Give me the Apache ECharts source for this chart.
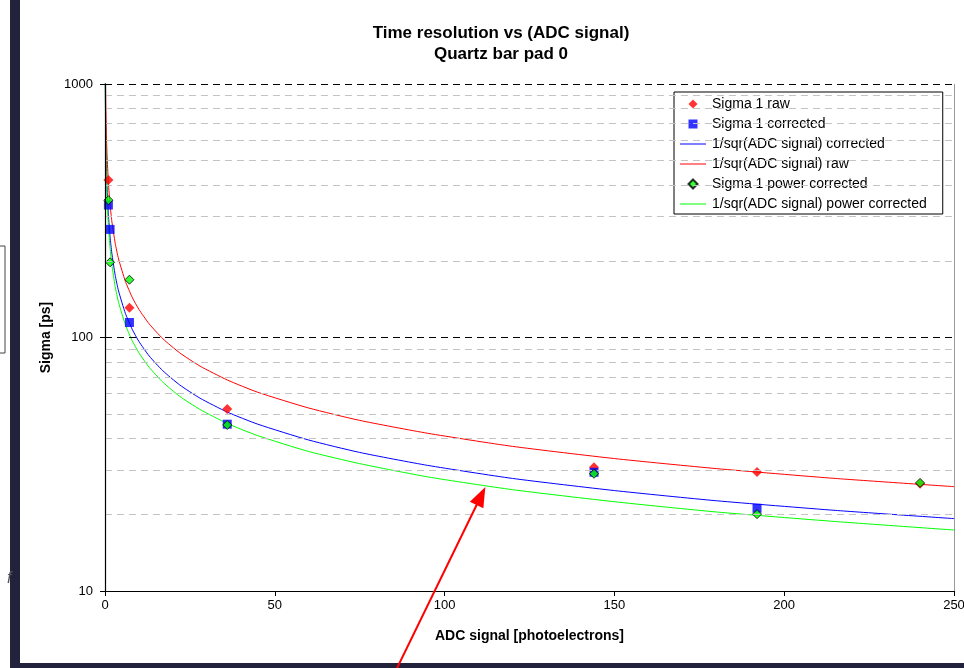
<!DOCTYPE html>
<html>
<head>
<meta charset="utf-8">
<title>Time resolution vs (ADC signal)</title>
<script src="https://cdn.jsdelivr.net/npm/echarts@6/dist/echarts.min.js"></script>
<style>
  html, body { margin: 0; padding: 0; background: #ffffff; overflow: hidden; }
  #chart { width: 964px; height: 668px; }
</style>
</head>
<body>
<div id="chart"></div>
<script>
// Measured points: [ADC signal (photoelectrons), sigma (ps)]
const sigmaRaw = [[1, 418], [7.2, 131], [36, 52.2], [144, 30.8], [192, 29.5], [240, 26.5]];
const sigmaCorrected = [[1, 333], [1.5, 267], [7.2, 114.6], [36, 45.5], [144, 29.4], [192, 21.2]];
const sigmaPowerCorrected = [[1, 348], [1.5, 198], [7.2, 169], [36, 45.2], [144, 29.0], [192, 20.1], [240, 26.7]];

// 1/sqrt(ADC) fit curves, sampled along the ADC axis
const fitX = [0.07, 0.08, 0.1, 0.17, 0.25, 0.4, 0.6, 1, 1.5, 2, 3, 4, 6, 8, 10, 13, 17, 22, 28, 36, 45, 60, 75, 95, 120, 150, 180, 215, 250];
const fitRaw = [1542, 1442.5, 1290.2, 989.5, 816, 645.1, 526.7, 408, 333.1, 288.5, 235.6, 204, 166.6, 144.2, 129.0, 113.2, 99.0, 87.0, 77.1, 68.0, 60.8, 52.7, 47.1, 41.9, 37.2, 33.3, 30.4, 27.8, 25.8];
const fitCorrected = [1152.8, 1078.4, 964.5, 739.7, 610, 482.2, 393.8, 305, 249.0, 215.7, 176.1, 152.5, 124.5, 107.8, 96.4, 84.6, 74.0, 65.0, 57.6, 50.8, 45.5, 39.4, 35.2, 31.3, 27.8, 24.9, 22.7, 20.8, 19.3];
const fitPower = [1039.4, 972.3, 869.6, 667.0, 550, 434.8, 355.0, 275, 224.5, 194.5, 158.8, 137.5, 112.3, 97.2, 87.0, 76.3, 66.7, 58.6, 52.0, 45.8, 41.0, 35.5, 31.8, 28.2, 25.1, 22.5, 20.5, 18.8, 17.4];

// Axis ticks
const xTicks = { min: 0, max: 250, interval: 50 };
const yMajor = [10, 100, 1000];
const yMinor = [20, 30, 40, 50, 60, 70, 80, 90, 200, 300, 400, 500, 600, 700, 800, 900];

// Annotation arrow, in data coordinates (tail lies below the axis)
const arrowTail = [85.3, 4.75];
const arrowTip = [112.0, 25.7];

const FONT = '"Liberation Sans", Arial, sans-serif';

// Legend glyphs
const ICON_DIAMOND = 'path://M5,0 L10,5 L5,10 L0,5 Z';
const ICON_SQUARE = 'path://M0,0 L10,0 L10,10 L0,10 Z';
const ICON_LINE = 'path://M0,0 L26,0 L26,1 L0,1 Z';

function pairs(xs, ys) { return xs.map((x, i) => [x, ys[i]]); }

const chart = echarts.init(document.getElementById('chart'), null, { renderer: 'canvas', width: 964, height: 668 });

const option = {
  backgroundColor: '#ffffff',
  animation: false,
  title: {
    text: 'Time resolution vs (ADC signal)\nQuartz bar pad 0',
    left: 496,
    top: 18,
    textAlign: 'center',
    textStyle: { fontFamily: FONT, fontSize: 17, fontWeight: 'bold', color: '#000', lineHeight: 21 }
  },
  legend: {
    orient: 'vertical',
    left: 674,
    top: 92,
    padding: [5, 16, 3, 6],
    backgroundColor: '#ffffff',
    borderColor: '#000000',
    borderWidth: 1,
    itemWidth: 26,
    itemHeight: 9,
    itemGap: 6,
    textStyle: { fontFamily: FONT, fontSize: 14, color: '#000', lineHeight: 14, padding: [0, 0, 0, 1] },
    data: [
      { name: 'Sigma 1 raw', icon: ICON_DIAMOND },
      { name: 'Sigma 1 corrected', icon: ICON_SQUARE },
      { name: '1/sqr(ADC signal) corrected', icon: ICON_LINE },
      { name: '1/sqr(ADC signal) raw', icon: ICON_LINE },
      { name: 'Sigma 1 power corrected', icon: ICON_DIAMOND },
      { name: '1/sqr(ADC signal) power corrected', icon: ICON_LINE }
    ]
  },
  grid: { left: 105, width: 849, top: 84, height: 507, containLabel: false, outerBoundsMode: 'none' },
  xAxis: {
    type: 'value',
    min: xTicks.min,
    max: xTicks.max,
    interval: xTicks.interval,
    name: 'ADC signal [photoelectrons]',
    nameLocation: 'middle',
    nameGap: 38,
    nameTextStyle: { fontFamily: FONT, fontSize: 14, fontWeight: 'bold', color: '#000' },
    axisLine: { lineStyle: { color: '#000', width: 1 } },
    axisTick: { show: true, length: 5, lineStyle: { color: '#000' } },
    axisLabel: { fontFamily: FONT, fontSize: 13, color: '#000', margin: 8 },
    splitLine: { show: false }
  },
  yAxis: [{
    type: 'log',
    logBase: 10,
    min: yMajor[0],
    max: yMajor[yMajor.length - 1],
    name: 'Sigma [ps]',
    nameLocation: 'middle',
    nameRotate: 90,
    nameGap: 47,
    nameTextStyle: { fontFamily: FONT, fontSize: 14, fontWeight: 'bold', color: '#000' },
    axisLine: { show: true, onZero: false, lineStyle: { color: '#000', width: 1.2 } },
    axisTick: { show: true, length: 5, lineStyle: { color: '#000' } },
    axisLabel: { fontFamily: FONT, fontSize: 13, color: '#000', margin: 12, formatter: v => String(Math.round(v)) },
    splitLine: { show: true, lineStyle: { color: '#000', type: [7, 5], width: 1 } },
    minorTick: { show: false },
    minorSplitLine: { show: false },
    z: 5
  }],
  series: [
    {
      name: 'plot frame',
      type: 'line',
      data: [],
      silent: true,
      z: 1,
      markLine: {
        silent: true,
        symbol: ['none', 'none'],
        label: { show: false },
        animation: false,
        data: yMinor.map(v => ({ yAxis: v, lineStyle: { color: '#c4c4c4', type: [7, 5], width: 1 } }))
          .concat([{ xAxis: xTicks.max, lineStyle: { color: '#9a9a9a', type: 'solid', width: 1 } }])
      }
    },
    {
      name: 'Sigma 1 raw',
      type: 'scatter',
      data: sigmaRaw,
      symbol: 'diamond',
      symbolSize: 10,
      itemStyle: { color: '#ff0000' },
      z: 3
    },
    {
      name: 'Sigma 1 corrected',
      type: 'scatter',
      data: sigmaCorrected,
      symbol: 'rect',
      symbolSize: 9,
      itemStyle: { color: '#0000ff' },
      z: 3
    },
    {
      name: '1/sqr(ADC signal) corrected',
      type: 'line',
      data: pairs(fitX, fitCorrected),
      symbol: 'none',
      smooth: 0.2,
      clip: true,
      lineStyle: { color: '#0000ff', width: 1 },
      itemStyle: { color: '#0000ff' },
      z: 2
    },
    {
      name: '1/sqr(ADC signal) raw',
      type: 'line',
      data: pairs(fitX, fitRaw),
      symbol: 'none',
      smooth: 0.2,
      clip: true,
      lineStyle: { color: '#ff0000', width: 1 },
      itemStyle: { color: '#ff0000' },
      z: 2
    },
    {
      name: 'Sigma 1 power corrected',
      type: 'scatter',
      data: sigmaPowerCorrected,
      symbol: 'diamond',
      symbolSize: 9,
      itemStyle: { color: '#00ff00', borderColor: '#000000', borderWidth: 1 },
      z: 4
    },
    {
      name: '1/sqr(ADC signal) power corrected',
      type: 'line',
      data: pairs(fitX, fitPower),
      symbol: 'none',
      smooth: 0.2,
      clip: true,
      lineStyle: { color: '#00ff00', width: 1 },
      itemStyle: { color: '#00ff00' },
      z: 2
    }
  ]
};

chart.setOption(option);

// Frame around the sheet and the red annotation arrow
const tip = chart.convertToPixel({ xAxisIndex: 0, yAxisIndex: 0 }, arrowTip);
const tail = chart.convertToPixel({ xAxisIndex: 0, yAxisIndex: 0 }, arrowTail);
const dx = tip[0] - tail[0], dy = tip[1] - tail[1];
const len = Math.sqrt(dx * dx + dy * dy);
const ux = dx / len, uy = dy / len;
const headLen = 20, headHalf = 7.5;
const bx = tip[0] - ux * headLen, by = tip[1] - uy * headLen;

chart.setOption({
  graphic: [
    { type: 'rect', id: 'frameLeft', shape: { x: 10, y: 0, width: 10, height: 668 }, style: { fill: '#22223c' }, z: 100 },
    { type: 'rect', id: 'frameBottom', shape: { x: 10, y: 663, width: 954, height: 5 }, style: { fill: '#22223c' }, z: 100 },
    { type: 'rect', id: 'sideBox', shape: { x: -2, y: 246, width: 7, height: 107 }, style: { fill: 'none', stroke: '#444', lineWidth: 1 }, z: 100 },
    { type: 'text', id: 'sideGlyph', x: 7, y: 571, style: { text: 'f', fill: '#555', font: 'italic 16px ' + FONT }, z: 101 },
    { type: 'line', id: 'arrowShaft', shape: { x1: tail[0], y1: tail[1], x2: bx + ux * 2, y2: by + uy * 2 }, style: { stroke: '#ff0000', lineWidth: 2 }, z: 102 },
    { type: 'polygon', id: 'arrowHead', shape: { points: [
        [tip[0], tip[1]],
        [bx - uy * headHalf, by + ux * headHalf],
        [bx + uy * headHalf, by - ux * headHalf]
      ] }, style: { fill: '#ff0000' }, z: 102 }
  ]
});
</script>
</body>
</html>
